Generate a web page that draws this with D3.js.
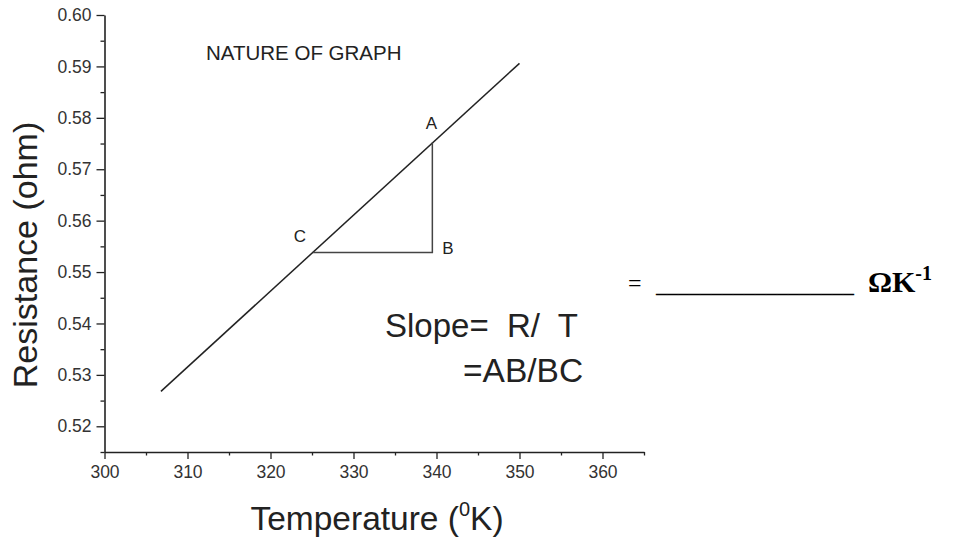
<!DOCTYPE html>
<html>
<head>
<meta charset="utf-8">
<script src="https://cdn.jsdelivr.net/npm/d3@7"></script>
<style>
  body { margin: 0; background: #fff; }
  text { font-family: "Liberation Sans", Arial, sans-serif; }
</style>
</head>
<body>
<div id="chart"></div>
<script>
// straight line R(T), read at its two ends
var line_t = [306.8, 350.0]
var line_r = [0.5268, 0.5906]
// slope triangle corners A, B, C
var tri_names = ["A", "B", "C"]
var tri_t = [339.5, 339.5, 325.1]
var tri_r = [0.5752, 0.5538, 0.5538]
// axes
var x_ticks = [300, 310, 320, 330, 340, 350, 360]
var x_minor = [305, 315, 325, 335, 345, 355, 365]
var y_ticks = [0.52, 0.53, 0.54, 0.55, 0.56, 0.57, 0.58, 0.59, 0.60]
var y_minor = [0.515, 0.525, 0.535, 0.545, 0.555, 0.565, 0.575, 0.585, 0.595]

var width = 967, height = 539
var padding = { "left": 104.5, "right": 323, "top": 15, "bottom": 87 }

var svg = d3.select("#chart").append("svg")
    .attr("width", width)
    .attr("height", height)
svg.append("rect").attr("width", width).attr("height", height).attr("fill", "#fff")

var x_scale = d3.scaleLinear()
    .domain([300, 365])
    .range([padding.left, width - padding.right])
var y_scale = d3.scaleLinear()
    .domain([0.515, 0.60])
    .range([height - padding.bottom, padding.top])

// minor ticks first, then the main axes on top
svg.append("g")
    .attr("transform", "translate(0," + y_scale(0.515) + ")")
    .call(d3.axisBottom(x_scale).tickValues(x_minor).tickSize(3.5).tickFormat(""))
    .call(function (g) { g.select(".domain").remove() })
svg.append("g")
    .attr("transform", "translate(" + x_scale(300) + ",0)")
    .call(d3.axisLeft(y_scale).tickValues(y_minor).tickSize(4).tickFormat(""))
    .call(function (g) { g.select(".domain").remove() })

var x_axis = svg.append("g")
    .attr("transform", "translate(0," + y_scale(0.515) + ")")
    .call(d3.axisBottom(x_scale).tickValues(x_ticks).tickSize(7).tickSizeOuter(0).tickPadding(7))
var y_axis = svg.append("g")
    .attr("transform", "translate(" + x_scale(300) + ",0)")
    .call(d3.axisLeft(y_scale).tickValues(y_ticks).tickSize(8).tickSizeOuter(0).tickPadding(5)
        .tickFormat(d3.format(".2f")))

svg.selectAll(".tick line").attr("stroke", "#222").attr("stroke-width", 1.3)
svg.selectAll(".domain").attr("stroke", "#222").attr("stroke-width", 1.6)
x_axis.attr("font-size", 17.5)
y_axis.attr("font-size", 17.5)
svg.selectAll(".tick text")
    .attr("fill", "#333")
    .style("font-family", "'Liberation Sans', Arial, sans-serif")

// data line
var line_pts = line_t.map(function (t, i) { return [t, line_r[i]] })
svg.append("path")
    .datum(line_pts)
    .attr("d", d3.line()
        .x(function (d) { return x_scale(d[0]) })
        .y(function (d) { return y_scale(d[1]) }))
    .attr("fill", "none")
    .attr("stroke", "#222")
    .attr("stroke-width", 1.5)

// triangle A-B-C (open on the hypotenuse, which is the line itself)
var tri_pts = tri_t.map(function (t, i) { return [t, tri_r[i]] })
svg.append("path")
    .datum(tri_pts)
    .attr("d", d3.line()
        .x(function (d) { return x_scale(d[0]) })
        .y(function (d) { return y_scale(d[1]) }))
    .attr("fill", "none")
    .attr("stroke", "#444")
    .attr("stroke-width", 1.5)

var label_off = { "A": [-1, -14, "middle"], "B": [10, 1, "start"], "C": [-13, -11, "middle"] }
svg.selectAll(".corner").data(tri_names)
    .enter().append("text")
    .attr("class", "corner")
    .attr("x", function (d, i) { return x_scale(tri_t[i]) + label_off[d][0] })
    .attr("y", function (d, i) { return y_scale(tri_r[i]) + label_off[d][1] })
    .attr("text-anchor", function (d) { return label_off[d][2] })
    .attr("font-size", 17)
    .attr("fill", "#222")
    .text(function (d) { return d })

// annotations
svg.append("text")
    .attr("x", 206).attr("y", 60)
    .attr("font-size", 20.5)
    .attr("fill", "#222")
    .text("NATURE OF GRAPH")
svg.append("text")
    .attr("x", 385).attr("y", 337)
    .attr("font-size", 33)
    .attr("fill", "#222")
    .style("white-space", "pre")
    .text("Slope=  R/  T")
svg.append("text")
    .attr("x", 463).attr("y", 382)
    .attr("font-size", 33.5)
    .attr("fill", "#222")
    .text("=AB/BC")

// axis titles
svg.append("text")
    .attr("transform", "translate(37,255) rotate(-90)")
    .attr("text-anchor", "middle")
    .attr("font-size", 34)
    .attr("fill", "#222")
    .text("Resistance (ohm)")
var x_title = svg.append("text")
    .attr("x", 377)
    .attr("y", 530)
    .attr("text-anchor", "middle")
    .attr("font-size", 33.5)
    .attr("fill", "#222")
x_title.append("tspan").text("Temperature (")
x_title.append("tspan").attr("font-size", 20).attr("dy", -14).text("0")
x_title.append("tspan").attr("dy", 14).text("K)")

// answer blank on the right
var serif = "'Liberation Serif', 'Times New Roman', serif"
svg.append("text")
    .attr("x", 628).attr("y", 291)
    .attr("font-size", 24)
    .attr("fill", "#000")
    .style("font-family", serif)
    .text("=")
svg.append("text")
    .attr("x", 656).attr("y", 292)
    .attr("font-size", 22)
    .attr("font-weight", "bold")
    .attr("fill", "#000")
    .style("font-family", serif)
    .text("__________________")
var unit = svg.append("text")
    .attr("x", 868).attr("y", 292)
    .attr("font-size", 30)
    .attr("font-weight", "bold")
    .attr("fill", "#000")
    .style("font-family", serif)
unit.append("tspan").text("ΩK")
unit.append("tspan").attr("font-size", 20).attr("dy", -12).text("-1")
</script>
</body>
</html>
